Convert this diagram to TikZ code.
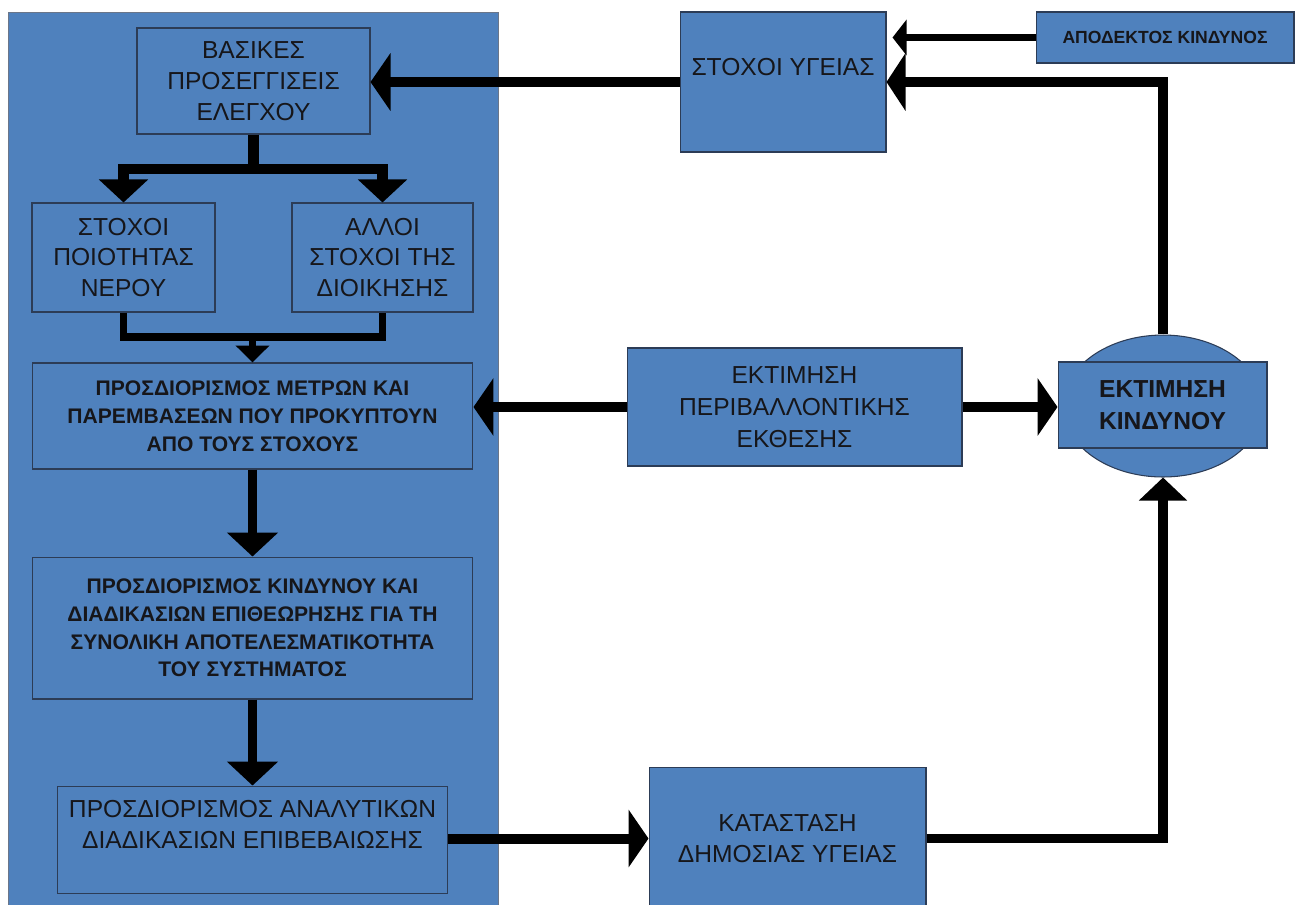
\documentclass[tikz,border=0pt]{standalone}
\usepackage{fontspec}
\setmainfont{Liberation Sans}
\usepackage{tikz}
\usetikzlibrary{positioning,arrows.meta,shapes.geometric}
\definecolor{blockblue}{RGB}{79,129,189}
\definecolor{blockline}{RGB}{44,60,86}
\definecolor{textdark}{RGB}{22,22,26}
\newcommand*{\BlockFont}{\fontsize{14}{17.5}\selectfont}
\newcommand*{\DenseFont}{\fontsize{12}{15.8}\selectfont\bfseries}
\tikzset{
  panel/.style={draw=blockline!70, fill=blockblue, line width=0.6pt, inner sep=0pt},
  block/.style={draw=blockline, fill=blockblue, line width=0.6pt, align=center,
    inner sep=2pt, text=textdark, font=\BlockFont},
  denseblock/.style={block, font=\DenseFont},
  thickflow/.style={line width=5.7pt, -{Triangle[width=1.14cm,length=0.4cm]}},
  trunkline/.style={line width=5.7pt},
  splitflow/.style={line width=6pt, -{Triangle[width=0.96cm,length=0.46cm]}},
  mergeline/.style={line width=4.4pt},
  mergeflow/.style={line width=4.4pt, -{Triangle[width=0.66cm,length=0.34cm]}},
  downflow/.style={line width=5.5pt, -{Triangle[width=1.0cm,length=0.48cm]}},
  acceptflow/.style={line width=4pt, shorten >=0.12cm, -{Triangle[width=0.7cm,length=0.28cm]}},
  loopflow/.style={line width=5.4pt, -{Triangle[width=1.14cm,length=0.38cm]}},
  upflow/.style={line width=5.4pt, -{Triangle[width=0.94cm,length=0.46cm]}},
}

\begin{document}
\begin{tikzpicture}[x=0.02cm, y=-0.02cm, node distance=1.74cm]
  \clip (0,0) rectangle (1297,904);
  \fill[white] (0,0) rectangle (1297,904);

  % left panel with the control chain
  \node[panel, minimum width=9.82cm, minimum height=17.96cm] (panel) at (253.5,461) {};
  \node[block, minimum width=4.66cm, minimum height=2.12cm] (basic) at (253.5,81)
    {ΒΑΣΙΚΕΣ\\ΠΡΟΣΕΓΓΙΣΕΙΣ\\ΕΛΕΓΧΟΥ};
  \node[block, minimum width=3.66cm, minimum height=2.18cm] (waterquality) at (123.5,257.5)
    {ΣΤΟΧΟΙ\\ΠΟΙΟΤΗΤΑΣ\\ΝΕΡΟΥ};
  \node[block, minimum width=3.62cm, minimum height=2.18cm] (admingoals) at (382.5,257.5)
    {ΑΛΛΟΙ\\ΣΤΟΧΟΙ ΤΗΣ\\ΔΙΟΙΚΗΣΗΣ};
  \node[denseblock, minimum width=8.82cm, minimum height=2.12cm] (measures) at (252.5,416)
    {ΠΡΟΣΔΙΟΡΙΣΜΟΣ ΜΕΤΡΩΝ ΚΑΙ\\ΠΑΡΕΜΒΑΣΕΩΝ ΠΟΥ ΠΡΟΚΥΠΤΟΥΝ\\ΑΠΟ ΤΟΥΣ ΣΤΟΧΟΥΣ};
  \node[denseblock, minimum width=8.82cm, minimum height=2.84cm, below=of measures] (riskproc)
    {ΠΡΟΣΔΙΟΡΙΣΜΟΣ ΚΙΝΔΥΝΟΥ ΚΑΙ\\ΔΙΑΔΙΚΑΣΙΩΝ ΕΠΙΘΕΩΡΗΣΗΣ ΓΙΑ ΤΗ\\ΣΥΝΟΛΙΚΗ ΑΠΟΤΕΛΕΣΜΑΤΙΚΟΤΗΤΑ\\ΤΟΥ ΣΥΣΤΗΜΑΤΟΣ};
  \node[block, minimum width=7.8cm, minimum height=2.14cm, below=1.72cm of riskproc] (analytic)
    {ΠΡΟΣΔΙΟΡΙΣΜΟΣ ΑΝΑΛΥΤΙΚΩΝ\\ΔΙΑΔΙΚΑΣΙΩΝ ΕΠΙΒΕΒΑΙΩΣΗΣ\\\mbox{}};

  % right side
  \node[block, minimum width=4.12cm, minimum height=2.8cm] (healthgoals) at (783,82)
    {ΣΤΟΧΟΙ ΥΓΕΙΑΣ\\\mbox{}};
  \node[block, minimum width=5.16cm, minimum height=1.02cm, font=\fontsize{10}{12}\selectfont\bfseries] (accepted) at (1165,37.5)
    {ΑΠΟΔΕΚΤΟΣ ΚΙΝΔΥΝΟΣ};
  \node[block, minimum width=6.7cm, minimum height=2.36cm, font=\fontsize{14}{18.4}\selectfont] (envexposure) at (794.5,407)
    {ΕΚΤΙΜΗΣΗ\\ΠΕΡΙΒΑΛΛΟΝΤΙΚΗΣ\\ΕΚΘΕΣΗΣ};
  \node[block, ellipse, inner sep=0pt, minimum width=4cm, minimum height=2.84cm] (riskellipse) at (1163,406) {};
  \node[block, minimum width=4.18cm, minimum height=1.72cm, font=\fontsize{14}{18}\selectfont\bfseries] (riskassess) at (1162.5,405)
    {ΕΚΤΙΜΗΣΗ\\ΚΙΝΔΥΝΟΥ};
  \node[block, minimum width=5.54cm, minimum height=2.86cm] (publichealth) at (787.5,838.5)
    {ΚΑΤΑΣΤΑΣΗ\\ΔΗΜΟΣΙΑΣ ΥΓΕΙΑΣ};

  % split and merge inside the panel
  \coordinate (split) at (253.5,169);
  \coordinate (merge) at (252.5,337);
  \draw[trunkline] (basic.south) -- (split);
  \draw[splitflow] (split) -| (waterquality.north);
  \draw[splitflow] (split) -| (admingoals.north);
  \draw[mergeline] (waterquality.south) |- (merge) -| (admingoals.south);
  \draw[mergeflow] (merge) -- (measures.north);
  \draw[downflow] (measures) -- (riskproc);
  \draw[downflow] (riskproc) -- (analytic);

  % connections between the two sides
  \draw[thickflow] (healthgoals.west) -- (healthgoals.west -| basic.east);
  \draw[acceptflow] (accepted.west) -- (accepted.west -| healthgoals.east);
  \draw[loopflow] (riskellipse.north) |- (healthgoals.east);
  \draw[thickflow] (envexposure.west) -- (envexposure.west -| measures.east);
  \draw[thickflow] (envexposure.east) -- (envexposure.east -| riskassess.west);
  \draw[thickflow] (analytic.east |- publichealth.west) -- (publichealth.west);
  \draw[upflow] (publichealth.east) -| (riskellipse.south);
\end{tikzpicture}
\end{document}
